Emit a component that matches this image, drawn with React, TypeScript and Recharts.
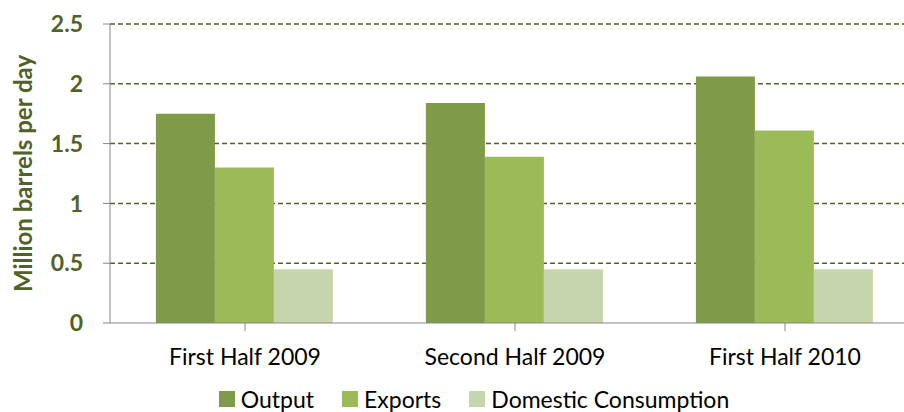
import React from "react";
import {
  BarChart,
  Bar,
  XAxis,
  YAxis,
  CartesianGrid,
  Legend,
  Label,
} from "recharts";

const periods = ["First Half 2009", "Second Half 2009", "First Half 2010"];
const output = [1.75, 1.84, 2.06];
const exportsVals = [1.3, 1.39, 1.61];
const domestic = [0.45, 0.45, 0.45];
const yTicks = [0, 0.5, 1, 1.5, 2, 2.5];

const series = [
  { key: "output", name: "Output", color: "#7f9a48" },
  { key: "exports", name: "Exports", color: "#9bbb59" },
  { key: "domestic", name: "Domestic Consumption", color: "#c6d6ac" },
];

const data = periods.map((p, i) => ({
  period: p,
  output: output[i],
  exports: exportsVals[i],
  domestic: domestic[i],
}));

const font = "Lato, 'Liberation Sans', sans-serif";
const green = "#4f6228";

const renderLegend = () => (
  <div
    style={{
      display: "flex",
      justifyContent: "center",
      alignItems: "center",
      height: 26,
      paddingLeft: 56,
      fontFamily: font,
      fontSize: 23,
      color: "#000",
    }}
  >
    {series.map((s) => (
      <div key={s.key} style={{ display: "flex", alignItems: "center", marginRight: 28 }}>
        <span style={{ width: 16, height: 16, background: s.color, marginRight: 6 }} />
        <span>{s.name}</span>
      </div>
    ))}
  </div>
);

export default function App() {
  return (
    <div
      style={{
        position: "fixed",
        left: 0,
        top: 0,
        width: 904,
        height: 412,
        overflow: "hidden",
        background: "#fff",
      }}
    >
      <BarChart
        width={920}
        height={412}
        data={data}
        margin={{ top: 24, right: 0, left: 0, bottom: 0 }}
        barCategoryGap="17%"
        barGap={0}
      >
        <CartesianGrid
          vertical={false}
          stroke={green}
          strokeWidth={1.5}
          strokeDasharray="5 3"
          horizontalValues={[0.5, 1, 1.5, 2, 2.5]}
        />
        <XAxis
          dataKey="period"
          height={63}
          axisLine={{ stroke: "#868686" }}
          tickLine={{ stroke: "#868686" }}
          tickSize={8}
          tickMargin={18}
          tick={{ fill: "#000", fontSize: 23, fontFamily: font }}
        />
        <YAxis
          width={110}
          domain={[0, 2.5]}
          ticks={yTicks}
          axisLine={{ stroke: "#868686" }}
          tickLine={{ stroke: "#868686" }}
          tickSize={7}
          tickMargin={20}
          tick={{ fill: green, fontSize: 23, fontWeight: "bold", fontFamily: font }}
        >
          <Label
            content={({ viewBox }: any) => {
              const cx = 22;
              const cy = viewBox.y + viewBox.height / 2;
              return (
                <text
                  x={cx}
                  y={cy}
                  transform={`rotate(-90 ${cx} ${cy})`}
                  textAnchor="middle"
                  dominantBaseline="central"
                  fill={green}
                  fontSize={24}
                  fontWeight="bold"
                  fontFamily={font}
                >
                  Million barrels per day
                </text>
              );
            }}
          />
        </YAxis>
        <Legend verticalAlign="bottom" content={renderLegend} />
        {series.map((s) => (
          <Bar
            key={s.key}
            dataKey={s.key}
            name={s.name}
            fill={s.color}
            isAnimationActive={false}
          />
        ))}
      </BarChart>
    </div>
  );
}
